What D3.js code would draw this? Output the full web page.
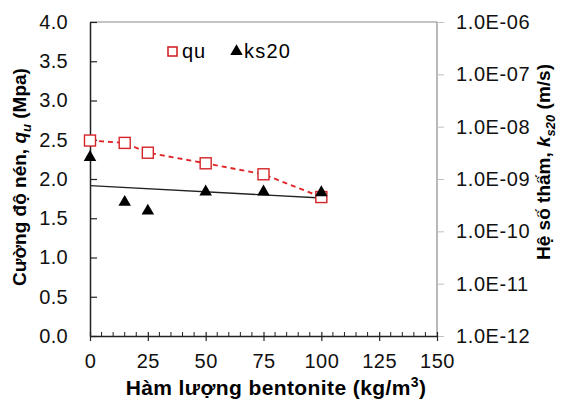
<!DOCTYPE html>
<html>
<head>
<meta charset="utf-8">
<script src="https://cdn.jsdelivr.net/npm/d3@7"></script>
<style>
body { margin: 0; background: #fff; }
text { font-family: "Liberation Sans", Arial, sans-serif; }
</style>
</head>
<body>
<div id="chart"></div>
<script>
// bentonite content (kg/m3)
var bentonite = [0, 15, 25, 50, 75, 100];
// unconfined compressive strength qu (MPa)
var qu = [2.49, 2.46, 2.335, 2.20, 2.06, 1.77];
// permeability ks20 (m/s)
var ks20 = [2.6e-9, 3.6e-10, 2.45e-10, 5.7e-10, 5.7e-10, 5.5e-10];

var xTicks = [0, 25, 50, 75, 100, 125, 150];
var yTicks = [0, 0.5, 1, 1.5, 2, 2.5, 3, 3.5, 4];
var rTicks = [1e-12, 1e-11, 1e-10, 1e-9, 1e-8, 1e-7, 1e-6];

var width = 564, height = 400;
var pLeft = 90, pRight = 437, pTop = 22, pBottom = 336;

var svg = d3.select("#chart").append("svg")
	.attr("width", width)
	.attr("height", height);

var x = d3.scaleLinear().domain([0, 150]).range([pLeft, pRight]);
var y = d3.scaleLinear().domain([0, 4]).range([pBottom, pTop]);
var yr = d3.scaleLog().domain([1e-12, 1e-6]).range([pBottom, pTop]);

// frame top + right (grey)
svg.append("path")
	.attr("d", "M" + pLeft + "," + pTop + "H" + pRight + "V" + pBottom)
	.attr("fill", "none").attr("stroke", "#8a8a8a").attr("stroke-width", 1.2);

// right log axis
var rAxis = svg.append("g")
	.attr("transform", "translate(" + pRight + ",0)")
	.call(d3.axisRight(yr).tickValues(rTicks).tickSize(7).tickPadding(12)
		.tickFormat(function(d) { return "1.0E-" + d3.format("02d")(-Math.round(Math.log10(d))); }));
rAxis.select(".domain").remove();
rAxis.selectAll("line").attr("stroke", "#c0c0c0");
rAxis.selectAll("text").attr("font-size", 20).attr("fill", "#111").attr("letter-spacing", 0.6);

// bottom axis with minor ticks
var minor = d3.range(0, 151, 5).filter(function(d) { return d % 25 !== 0; });
svg.append("g").selectAll("line").data(minor).enter().append("line")
	.attr("x1", function(d) { return x(d); }).attr("x2", function(d) { return x(d); })
	.attr("y1", pBottom).attr("y2", pBottom - 4)
	.attr("stroke", "#222").attr("stroke-width", 1);

var xAxis = svg.append("g")
	.attr("transform", "translate(0," + pBottom + ")")
	.call(d3.axisBottom(x).tickValues(xTicks).tickSizeInner(5).tickSizeOuter(0).tickPadding(13));
xAxis.select(".domain").attr("stroke", "#222").attr("stroke-width", 1.5);
xAxis.selectAll(".tick line").attr("y1", -4).attr("stroke", "#222").attr("stroke-width", 1.2);
xAxis.selectAll("text").attr("font-size", 20).attr("fill", "#111").attr("letter-spacing", 0.5);

// left axis
var yAxis = svg.append("g")
	.attr("transform", "translate(" + pLeft + ",0)")
	.call(d3.axisLeft(y).tickValues(yTicks).tickSizeInner(7).tickSizeOuter(0).tickPadding(15)
		.tickFormat(d3.format(".1f")));
yAxis.select(".domain").attr("stroke", "#222").attr("stroke-width", 1.5);
yAxis.selectAll(".tick line").attr("x2", 7).attr("stroke", "#222").attr("stroke-width", 1.2);
yAxis.selectAll("text").attr("font-size", 20).attr("fill", "#111").attr("letter-spacing", 0.3);

// trendline for ks20 (exponential fit, straight in log space)
var lx = bentonite, ly = ks20.map(function(v) { return Math.log10(v); });
var mx = d3.mean(lx), my = d3.mean(ly);
var slope = d3.sum(lx, function(d, i) { return (d - mx) * (ly[i] - my); }) /
	d3.sum(lx, function(d) { return (d - mx) * (d - mx); });
var icpt = my - slope * mx;
var trend = [0, 100].map(function(d) { return [d, Math.pow(10, icpt + slope * d)]; });
svg.append("path")
	.attr("d", d3.line().x(function(d) { return x(d[0]); }).y(function(d) { return yr(d[1]); })(trend))
	.attr("fill", "none").attr("stroke", "#222").attr("stroke-width", 1.4);

// qu dashed line
var quPts = bentonite.map(function(d, i) { return [d, qu[i]]; });
svg.append("path")
	.attr("d", d3.line().x(function(d) { return x(d[0]); }).y(function(d) { return y(d[1]); })(quPts))
	.attr("fill", "none").attr("stroke", "#e0262a").attr("stroke-width", 1.9)
	.attr("stroke-dasharray", "5,4");

// qu markers
svg.append("g").selectAll("rect").data(quPts).enter().append("rect")
	.attr("x", function(d) { return x(d[0]) - 5.5; })
	.attr("y", function(d) { return y(d[1]) - 5.5; })
	.attr("width", 11).attr("height", 11)
	.attr("fill", "#fff").attr("stroke", "#d42428").attr("stroke-width", 1.4);

// ks20 markers
var tri = d3.symbol().type(d3.symbolTriangle).size(68);
svg.append("g").selectAll("path").data(bentonite).enter().append("path")
	.attr("d", tri)
	.attr("transform", function(d, i) { return "translate(" + x(d) + "," + yr(ks20[i]) + ")"; })
	.attr("fill", "#000");

// legend
var lg = svg.append("g");
lg.append("rect").attr("x", 168).attr("y", 47).attr("width", 9).attr("height", 9)
	.attr("fill", "#fff").attr("stroke", "#d42428").attr("stroke-width", 1.6);
lg.append("text").attr("x", 182).attr("y", 58).attr("font-size", 20).attr("letter-spacing", 0.8).text("qu");
lg.append("path").attr("d", tri).attr("transform", "translate(236.5,51.5)").attr("fill", "#000");
lg.append("text").attr("x", 244).attr("y", 58).attr("font-size", 20).attr("letter-spacing", 1.2).text("ks20");

// axis titles
svg.append("text")
	.attr("x", 276).attr("y", 395)
	.attr("text-anchor", "middle").attr("font-size", 21).attr("font-weight", "bold").attr("letter-spacing", 0.4)
	.html('Hàm lượng bentonite (kg/m<tspan dy="-8" font-size="14">3</tspan><tspan dy="8">)</tspan>');

svg.append("text")
	.attr("transform", "translate(26,177) rotate(-90)")
	.attr("text-anchor", "middle").attr("font-size", 19).attr("font-weight", "bold")
	.html('Cường độ nén, <tspan font-style="italic">q</tspan><tspan font-style="italic" font-size="13" dy="5">u</tspan><tspan dy="-5"> (Mpa)</tspan>');

svg.append("text")
	.attr("transform", "translate(550,162) rotate(-90)")
	.attr("text-anchor", "middle").attr("font-size", 19).attr("font-weight", "bold")
	.html('Hệ số thấm, <tspan font-style="italic">k</tspan><tspan font-style="italic" font-size="13" dy="5">s20</tspan><tspan dy="-5"> (m/s)</tspan>');
</script>
</body>
</html>
